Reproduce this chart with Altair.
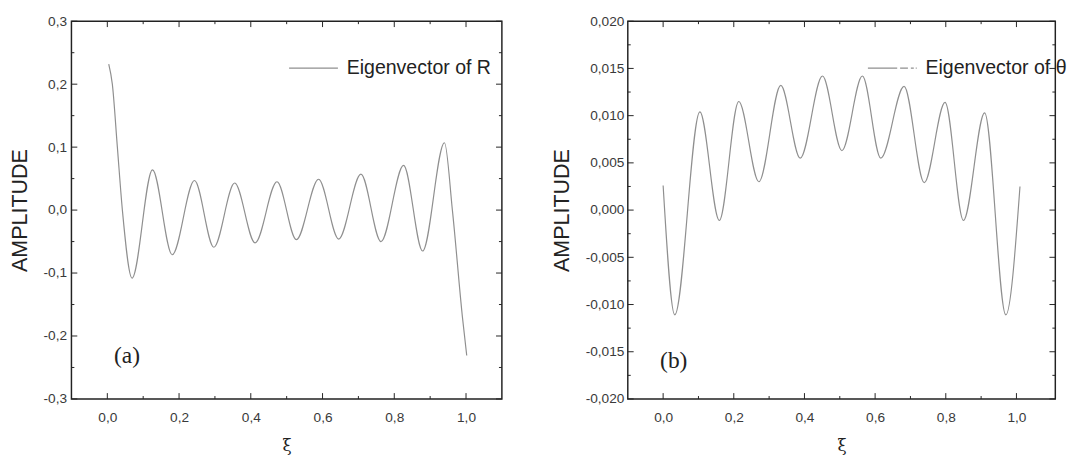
import altair as alt
import pandas as pd

# ---------------- data ----------------
# Panel (a): eigenvector of R
xi_a = [0.004, 0.014, 0.028, 0.042, 0.069, 0.126, 0.181, 0.243, 0.297, 0.355,
        0.412, 0.473, 0.527, 0.589, 0.645, 0.707, 0.763, 0.826, 0.879, 0.940,
        0.962, 0.990, 1.002]
amp_a = [0.232, 0.200, 0.100, 0.000, -0.108, 0.064, -0.071, 0.047, -0.059, 0.043,
         -0.052, 0.045, -0.047, 0.049, -0.046, 0.057, -0.050, 0.071, -0.065, 0.107,
         0.000, -0.170, -0.231]

# Panel (b): eigenvector of theta
xi_b = [0.000, 0.033, 0.104, 0.159, 0.214, 0.271, 0.333, 0.388, 0.451, 0.506,
        0.564, 0.616, 0.682, 0.739, 0.798, 0.850, 0.910, 0.970, 1.010]
amp_b = [0.0026, -0.0111, 0.0104, -0.0011, 0.0115, 0.0030, 0.0132, 0.0055, 0.0142, 0.0063,
         0.0142, 0.0055, 0.0131, 0.0029, 0.0114, -0.0011, 0.0103, -0.0111, 0.0025]

series_a = "Eigenvector of R"
series_b = "Eigenvector of θ"

x_major = [0.0, 0.2, 0.4, 0.6, 0.8, 1.0]
x_minor = [0.1, 0.3, 0.5, 0.7, 0.9]
ya_major = [-0.3, -0.2, -0.1, 0.0, 0.1, 0.2, 0.3]
ya_minor = [-0.25, -0.15, -0.05, 0.05, 0.15, 0.25]
yb_major = [-0.02, -0.015, -0.01, -0.005, 0.0, 0.005, 0.01, 0.015, 0.02]
yb_minor = [-0.0175, -0.0125, -0.0075, -0.0025, 0.0025, 0.0075, 0.0125, 0.0175]

label_a = ["(a)"]
label_a_x = [0.055]
label_a_y = [-0.232]
label_b = ["(b)"]
label_b_x = [0.03]
label_b_y = [-0.0160]

# ---------------- styling ----------------
FONT = "Liberation Sans"
FRAME = "#222222"
LINE = "#8f8f8f"


def comma_expr(fmt):
    return ("replace(replace(format(datum.value, '%s'), '.', ','), '\u2212', '-')" % fmt)


def panel(xs, ys, series, xdom, ydom, ymaj, ymin, yfmt, W, H, legend_x, legend_y,
          dash, ann, ann_x, ann_y, y_label_pad, y_title_pad):
    xscale = alt.Scale(domain=xdom, nice=False, zero=False)
    yscale = alt.Scale(domain=ydom, nice=False, zero=False)
    xaxis = alt.Axis(title="ξ", values=x_major, labelExpr=comma_expr(".1f"),
                     ticks=False, domain=False, grid=False,
                     labelFont=FONT, labelFontSize=14, labelColor="#3a3a3a",
                     labelPadding=12, titleFont="DejaVu Serif",
                     titleFontSize=17, titleFontWeight="normal",
                     titleColor=FRAME, titlePadding=14)
    yaxis = alt.Axis(title="AMPLITUDE", values=ymaj, labelExpr=comma_expr(yfmt),
                     ticks=False, domain=False, grid=False,
                     labelFont=FONT, labelFontSize=14, labelColor="#3a3a3a",
                     labelPadding=y_label_pad, titleFont=FONT,
                     titleFontSize=22, titleFontWeight="normal",
                     titleColor=FRAME, titlePadding=y_title_pad)

    def X(field):
        return alt.X(field, scale=xscale, axis=xaxis, title="ξ")

    def Y(field):
        return alt.Y(field, scale=yscale, axis=yaxis, title="AMPLITUDE")

    df = pd.DataFrame({"xi": xs, "amp": ys, "series": [series] * len(xs)})
    legend = alt.Legend(
        title=None, orient="none", legendX=legend_x, legendY=legend_y,
        symbolType="stroke", symbolSize=2500, symbolStrokeWidth=1.3,
        symbolStrokeColor=LINE, symbolDash=dash,
        labelFont=FONT, labelFontSize=20, labelColor=FRAME, labelOffset=8,
        labelLimit=400, padding=0,
    )
    line = alt.Chart(df).mark_line(strokeWidth=1.2, interpolate="monotone").encode(
        x=X("xi:Q"),
        y=Y("amp:Q"),
        color=alt.Color("series:N", scale=alt.Scale(range=[LINE]), legend=legend),
    )
    adf = pd.DataFrame({"t": ann, "x": ann_x, "y": ann_y})
    text = alt.Chart(adf).mark_text(font="Liberation Serif", fontSize=24,
                                    color=FRAME, baseline="middle").encode(
        x=X("x:Q"), y=Y("y:Q"), text="t:N",
    )
    layers = [line, text]

    def ticks(values, channel, side, length):
        tdf = pd.DataFrame({"v": values})
        base = alt.Chart(tdf).mark_rule(color=FRAME, strokeWidth=1)
        if channel == "x":
            if side == "bottom":
                return base.encode(x=X("v:Q"), y=alt.value(H), y2=alt.value(H - length))
            return base.encode(x=X("v:Q"), y=alt.value(0), y2=alt.value(length))
        if side == "left":
            return base.encode(y=Y("v:Q"), x=alt.value(0), x2=alt.value(length))
        return base.encode(y=Y("v:Q"), x=alt.value(W), x2=alt.value(W - length))

    for side in ("bottom", "top"):
        layers.append(ticks(x_major, "x", side, 6))
        layers.append(ticks(x_minor, "x", side, 3))
    for side in ("left", "right"):
        layers.append(ticks(ymaj, "y", side, 6))
        layers.append(ticks(ymin, "y", side, 3))
    return alt.layer(*layers).properties(width=W, height=H)


W_A, W_B, H = 441, 438, 387

left = panel(xi_a, amp_a, series_a, [-0.1, 1.1], [-0.3, 0.3], ya_major, ya_minor, ".1f",
             W_A, H, 222, 22, [1, 0], label_a, label_a_x, label_a_y, 5, 12)
right = panel(xi_b, amp_b, series_b, [-0.1, 1.11], [-0.02, 0.02], yb_major, yb_minor, ".3f",
              W_B, H, 245, 22, [30, 3, 8, 3, 3, 2], label_b, label_b_x, label_b_y, 4, 12)

chart = alt.hconcat(left, right, spacing=47).resolve_scale(color="independent").configure(
    padding=0,
    background="white",
).configure_view(stroke=FRAME, strokeWidth=1.5)

chart.save("out.html", embed_options={"renderer": "svg", "actions": False})
